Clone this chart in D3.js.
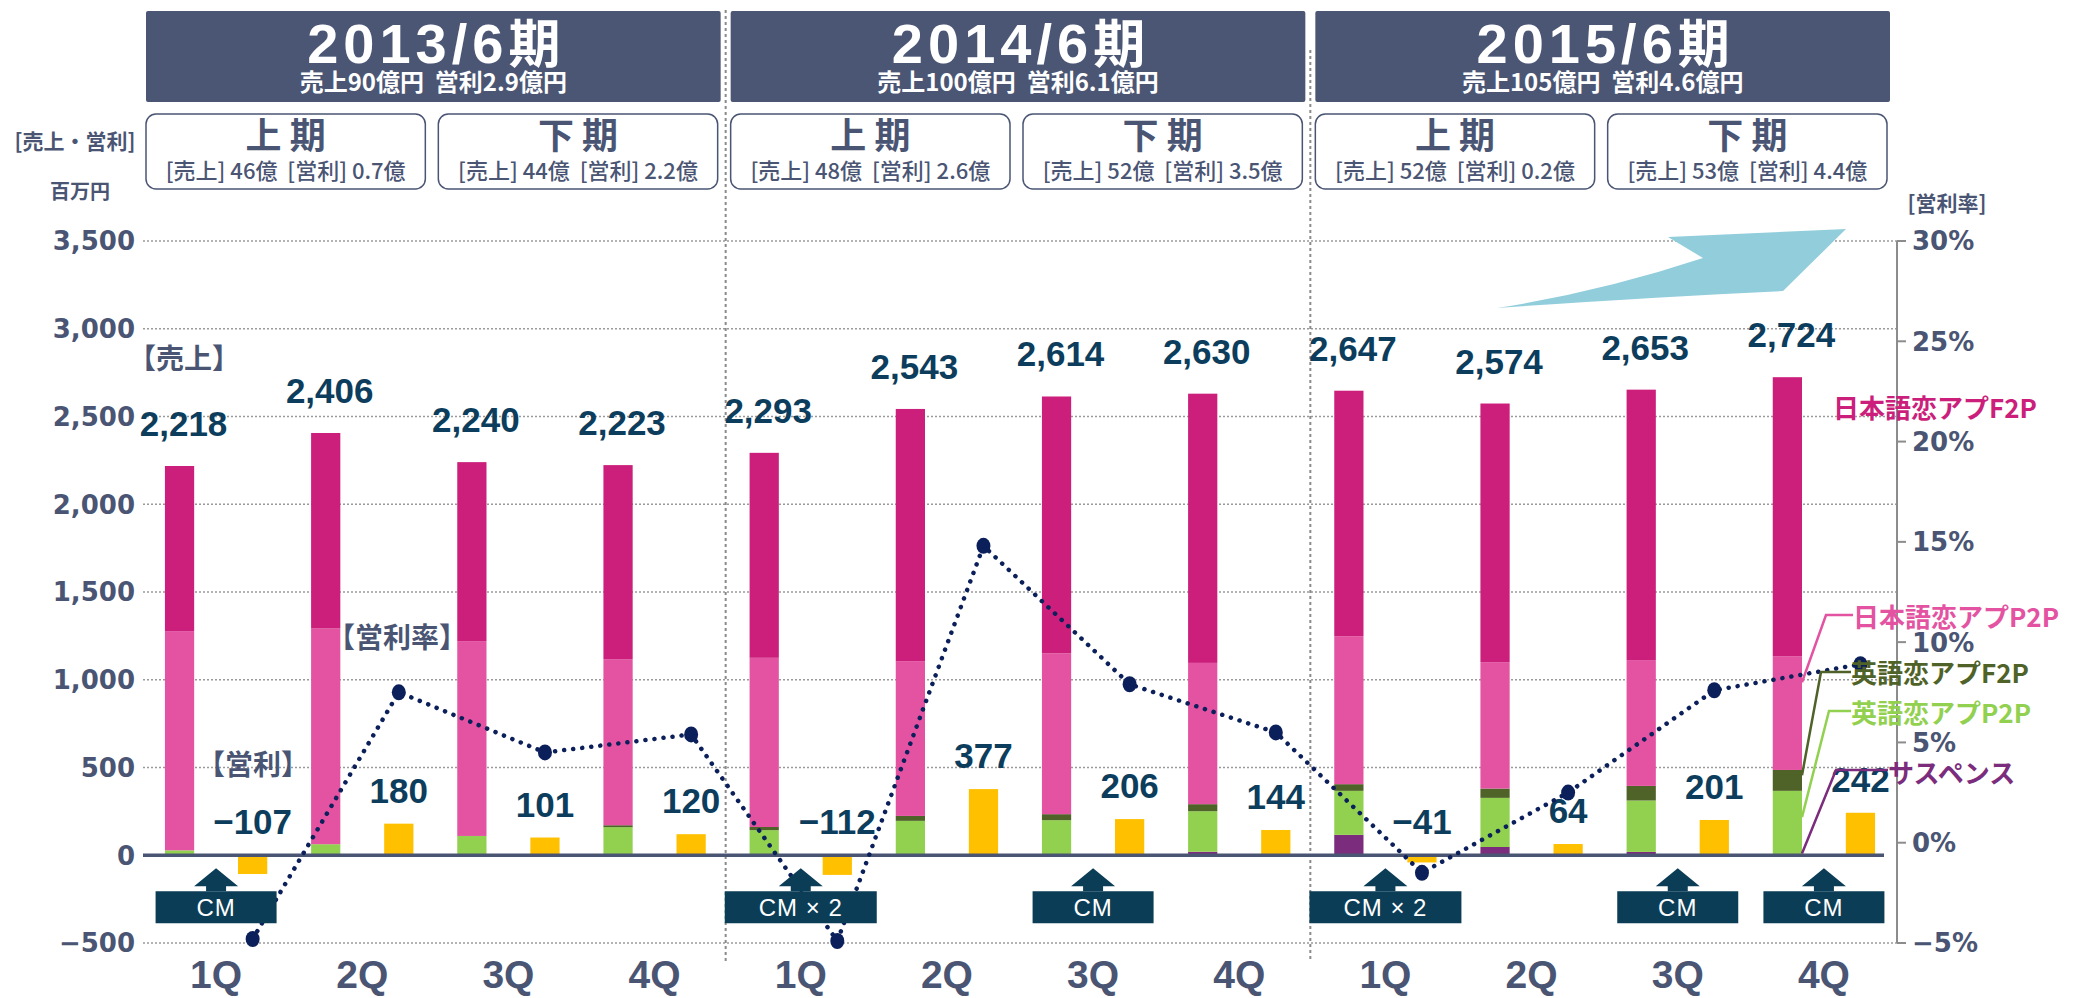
<!DOCTYPE html>
<html>
<head>
<meta charset="utf-8">
<script src="https://cdn.jsdelivr.net/npm/d3@7"></script>
<style>
  body { margin: 0; background: #fff; }
  text { font-family: "Noto Sans CJK JP", "Liberation Sans", sans-serif; white-space: pre; }
</style>
</head>
<body>
<div id="chart"></div>
<script>
'use strict';

const width = 2082;
const height = 998;

// quarters (3 fiscal years x 4)
const quarters = ["1Q", "2Q", "3Q", "4Q", "1Q", "2Q", "3Q", "4Q", "1Q", "2Q", "3Q", "4Q"];

// sales by title group, 百万円
const suspense = [0, 0, 0, 0, 0, 0, 0, 20, 116, 47, 19, 0];
const enP2P = [28, 63, 110, 160, 143, 196, 200, 231, 251, 280, 293, 367];
const enF2P = [0, 0, 0, 11, 18, 28, 34, 40, 38, 53, 83, 119];
const jpP2P = [1249, 1229, 1110, 946, 964, 882, 916, 805, 843, 720, 717, 648];
const jpF2P = [941, 1114, 1020, 1106, 1168, 1437, 1464, 1534, 1399, 1474, 1541, 1590];

const salesTotal = [2218, 2406, 2240, 2223, 2293, 2543, 2614, 2630, 2647, 2574, 2653, 2724];
const profit = [-107, 180, 101, 120, -112, 377, 206, 144, -41, 64, 201, 242];
// 営利率 (%)
const margin = [-4.8, 7.5, 4.5, 5.4, -4.9, 14.8, 7.9, 5.5, -1.5, 2.5, 7.6, 8.9];

const leftTicks = [-500, 0, 500, 1000, 1500, 2000, 2500, 3000, 3500];
const leftTickLabels = ["−500", "0", "500", "1,000", "1,500", "2,000", "2,500", "3,000", "3,500"];
const rightTicks = [-5, 0, 5, 10, 15, 20, 25, 30];
const rightTickLabels = ["−5%", "0%", "5%", "10%", "15%", "20%", "25%", "30%"];

const years = ["2013/6", "2014/6", "2015/6"];
const yearSummary = ["売上90億円  営利2.9億円", "売上100億円  営利6.1億円", "売上105億円  営利4.6億円"];
const halves = ["上 期", "下 期", "上 期", "下 期", "上 期", "下 期"];
const halfSummary = [
    "[売上] 46億  [営利] 0.7億", "[売上] 44億  [営利] 2.2億",
    "[売上] 48億  [営利] 2.6億", "[売上] 52億  [営利] 3.5億",
    "[売上] 52億  [営利] 0.2億", "[売上] 53億  [営利] 4.4億"
];

const cmQuarter = [0, 4, 6, 8, 10, 11];
const cmLabel = ["CM", "CM × 2", "CM", "CM × 2", "CM", "CM"];

const seriesKeys = ["suspense", "enP2P", "enF2P", "jpP2P", "jpF2P"];
const seriesNames = ["サスペンス", "英語恋アプP2P", "英語恋アプF2P", "日本語恋アプP2P", "日本語恋アプF2P"];
const seriesColors = ["#7b2c7c", "#92d050", "#4f6228", "#e353a1", "#cc1f7b"];

const slate = "#4a5574";
const navyText = "#0c3d5c";
const numFont = '"Liberation Sans", Arial, sans-serif';
const axisFont = '"DejaVu Sans", Verdana, sans-serif';

let table = quarters.map((q, i) => ({
    i: i,
    suspense: suspense[i],
    enP2P: enP2P[i],
    enF2P: enF2P[i],
    jpP2P: jpP2P[i],
    jpF2P: jpF2P[i]
}));

let svg = d3.select("#chart").append("svg")
    .attr("width", width)
    .attr("height", height)
    .attr("viewBox", `0 0 ${width} ${height}`);

const x = d3.scaleBand().domain(d3.range(12)).range([143, 1897]).padding(0);
const xs = d3.scaleBand().domain(["sales", "profit"]).range([0, x.bandwidth()])
    .paddingInner(0.6).paddingOuter(0.3);
const yL = d3.scaleLinear().domain([-500, 3500]).range([943, 241]);
const yR = d3.scaleLinear().domain([-5, 30]).range([943, 241]);
const bw = xs.bandwidth();
const y0 = yL(0);

// ---- header boxes
const yearG = svg.append("g");
years.forEach((yr, k) => {
    const x0 = x(k * 4) + 3;
    const w = x.bandwidth() * 4 - 10;
    yearG.append("rect")
        .attr("x", x0).attr("y", 11).attr("width", w).attr("height", 91)
        .attr("rx", 2).attr("fill", "#4b5675");
    const title = yearG.append("text")
        .attr("x", x0 + w / 2 + 3).attr("y", 63)
        .attr("text-anchor", "middle")
        .attr("fill", "#fff")
        .style("font-weight", "bold")
        .style("letter-spacing", "5px");
    title.append("tspan").style("font-family", numFont).style("font-size", "56px").text(yr);
    title.append("tspan").style("font-size", "52px").text("期");
    yearG.append("text")
        .attr("x", x0 + w / 2).attr("y", 91)
        .attr("text-anchor", "middle")
        .attr("fill", "#fff")
        .style("font-size", "24px").style("font-weight", "bold")
        .text(yearSummary[k]);
});

halves.forEach((h, k) => {
    const x0 = x(k * 2) + 3;
    const w = x.bandwidth() * 2 - 13;
    yearG.append("rect")
        .attr("x", x0).attr("y", 114).attr("width", w).attr("height", 75)
        .attr("rx", 10).attr("fill", "#fff")
        .attr("stroke", slate).attr("stroke-width", 1.5);
    yearG.append("text")
        .attr("x", x0 + w / 2).attr("y", 149)
        .attr("text-anchor", "middle").attr("fill", slate)
        .style("font-size", "36px").style("font-weight", "bold")
        .text(h);
    yearG.append("text")
        .attr("x", x0 + w / 2).attr("y", 179)
        .attr("text-anchor", "middle").attr("fill", slate)
        .style("font-size", "22px").style("font-weight", "500")
        .text(halfSummary[k]);
});

// unit labels
svg.append("text").attr("x", 75).attr("y", 149).attr("text-anchor", "middle")
    .attr("fill", slate).style("font-size", "21px").style("font-weight", "bold")
    .text("[売上・営利]");
svg.append("text").attr("x", 80).attr("y", 199).attr("text-anchor", "middle")
    .attr("fill", slate).style("font-size", "20px").style("font-weight", "bold")
    .text("百万円");
svg.append("text").attr("x", 1947).attr("y", 211).attr("text-anchor", "middle")
    .attr("fill", slate).style("font-size", "21px").style("font-weight", "bold")
    .text("[営利率]");

// ---- grid
svg.append("g")
    .selectAll("line")
    .data(leftTicks.filter(d => d !== 0))
    .join("line")
    .attr("x1", x.range()[0]).attr("x2", x.range()[1])
    .attr("y1", d => yL(d)).attr("y2", d => yL(d))
    .attr("stroke", "#9a9a9a").attr("stroke-width", 1.6)
    .attr("stroke-dasharray", "2,2");

// year separators
svg.append("g")
    .selectAll("line")
    .data([4, 8])
    .join("line")
    .attr("x1", d => x(d) - 2).attr("x2", d => x(d) - 2)
    .attr("y1", (d, i) => i === 0 ? 10 : 50).attr("y2", 962)
    .attr("stroke", "#8a8a8a").attr("stroke-width", 2)
    .attr("stroke-dasharray", "3,3");

// left tick labels
svg.append("g")
    .selectAll("text")
    .data(leftTicks)
    .join("text")
    .attr("x", 135).attr("y", d => yL(d))
    .attr("dy", "0.36em")
    .attr("text-anchor", "end")
    .attr("fill", slate)
    .style("font-family", axisFont).style("font-size", "26px").style("font-weight", "bold")
    .text((d, i) => leftTickLabels[i]);

// right axis
const rAxis = svg.append("g");
rAxis.append("line")
    .attr("x1", 1897).attr("x2", 1897)
    .attr("y1", yR(30)).attr("y2", yR(-5))
    .attr("stroke", "#8c8c8c").attr("stroke-width", 2);
rAxis.selectAll(".tick")
    .data(rightTicks)
    .join("line")
    .attr("x1", 1897).attr("x2", 1906)
    .attr("y1", d => yR(d)).attr("y2", d => yR(d))
    .attr("stroke", "#8c8c8c").attr("stroke-width", 2);
rAxis.selectAll("text")
    .data(rightTicks)
    .join("text")
    .attr("x", 1912).attr("y", d => yR(d))
    .attr("dy", "0.36em")
    .attr("fill", slate)
    .style("font-family", axisFont).style("font-size", "26px").style("font-weight", "bold")
    .text((d, i) => rightTickLabels[i]);

// ---- stacked sales bars
const stacked = d3.stack().keys(seriesKeys)(table);
svg.append("g")
    .selectAll("g")
    .data(stacked)
    .join("g")
    .attr("fill", (d, i) => seriesColors[i])
    .selectAll("rect")
    .data(d => d)
    .join("rect")
    .attr("x", d => x(d.data.i) + xs("sales"))
    .attr("y", d => yL(d[1]))
    .attr("width", bw)
    .attr("height", d => Math.max(0, yL(d[0]) - yL(d[1])));

// operating profit bars
svg.append("g")
    .selectAll("rect")
    .data(profit)
    .join("rect")
    .attr("x", (d, i) => x(i) + xs("profit"))
    .attr("y", d => yL(Math.max(0, d)))
    .attr("width", bw)
    .attr("height", d => Math.abs(yL(d) - y0))
    .attr("fill", "#ffc000");

// zero line
svg.append("line")
    .attr("x1", x.range()[0]).attr("x2", 1884)
    .attr("y1", y0).attr("y2", y0)
    .attr("stroke", slate).attr("stroke-width", 3.5);

// value labels
svg.append("g")
    .selectAll("text")
    .data(salesTotal)
    .join("text")
    .attr("x", (d, i) => x(i) + xs("sales") + bw / 2 + 4)
    .attr("y", d => yL(d) - 30)
    .attr("text-anchor", "middle")
    .attr("fill", navyText)
    .style("font-family", numFont).style("font-size", "35px").style("font-weight", "bold")
    .text(d => d3.format(",")(d));

svg.append("g")
    .selectAll("text")
    .data(profit)
    .join("text")
    .attr("x", (d, i) => x(i) + xs("profit") + bw / 2)
    .attr("y", d => Math.min(yL(d), y0) - 21)
    .attr("text-anchor", "middle")
    .attr("fill", navyText)
    .style("font-family", numFont).style("font-size", "35px").style("font-weight", "bold")
    .text(d => d < 0 ? "−" + Math.abs(d) : d);

// annotations
const notes = [
    { t: "【売上】", x: 184, y: 369 },
    { t: "【営利率】", x: 397, y: 648 },
    { t: "【営利】", x: 253, y: 775 }
];
svg.append("g")
    .selectAll("text")
    .data(notes)
    .join("text")
    .attr("x", d => d.x).attr("y", d => d.y)
    .attr("text-anchor", "middle")
    .attr("fill", slate)
    .style("font-size", "28px").style("font-weight", "bold")
    .text(d => d.t);

// ---- margin line
const lineGen = d3.line()
    .x((d, i) => x(i) + xs("profit") + bw / 2)
    .y(d => yR(d));
svg.append("path")
    .datum(margin)
    .attr("d", lineGen)
    .attr("fill", "none")
    .attr("stroke", "#0b1f5a")
    .attr("stroke-width", 4.5)
    .attr("stroke-linecap", "round")
    .attr("stroke-dasharray", "0.1,9");
svg.append("g")
    .selectAll("ellipse")
    .data(margin)
    .join("ellipse")
    .attr("cx", (d, i) => x(i) + xs("profit") + bw / 2)
    .attr("cy", d => yR(d))
    .attr("rx", 7).attr("ry", 8)
    .attr("fill", "#0b1f5a");

// ---- CM boxes
const cmG = svg.append("g");
cmQuarter.forEach((q, k) => {
    const cx = x(q) + x.bandwidth() / 2;
    const w = cmLabel[k].length > 2 ? 152 : 121;
    const top = y0 + 36;
    cmG.append("path")
        .attr("d", `M${cx - 22},${top - 5} L${cx},${top - 23} L${cx + 22},${top - 5} L${cx + 10},${top - 5} L${cx + 10},${top} L${cx - 10},${top} L${cx - 10},${top - 5} Z`)
        .attr("fill", "#0b3d57");
    cmG.append("rect")
        .attr("x", cx - w / 2).attr("y", top)
        .attr("width", w).attr("height", 32)
        .attr("fill", "#0b3d57");
    cmG.append("text")
        .attr("x", cx).attr("y", top + 25)
        .attr("text-anchor", "middle")
        .attr("fill", "#fff")
        .style("font-family", numFont).style("font-size", "24px")
        .style("letter-spacing", "1px")
        .text(cmLabel[k]);
});

// x labels
svg.append("g")
    .selectAll("text")
    .data(quarters)
    .join("text")
    .attr("x", (d, i) => x(i) + x.bandwidth() / 2)
    .attr("y", 988)
    .attr("text-anchor", "middle")
    .attr("fill", slate)
    .style("font-family", numFont).style("font-size", "39px").style("font-weight", "bold")
    .text(d => d);

// ---- series labels at the right
const lastX = x(11) + xs("sales") + bw;
const legendLayout = [
    { k: 4, at: null, tx: 1833, ty: 418 },
    { k: 3, at: 986, ex: 1826, ey: 615, tx: 1853, ty: 627 },
    { k: 2, at: 456, ex: 1821, ey: 672, tx: 1851, ty: 683 },
    { k: 1, at: 217, ex: 1829, ey: 711, tx: 1851, ty: 723 },
    { k: 0, at: 10, ex: 1836, ey: 770, tx: 1888, ty: 783 }
];
const legG = svg.append("g");
legendLayout.forEach(l => {
    if (l.at !== null) {
        legG.append("polyline")
            .attr("points", `${lastX},${yL(l.at)} ${l.ex},${l.ey} ${l.tx},${l.ey}`)
            .attr("fill", "none")
            .attr("stroke", seriesColors[l.k])
            .attr("stroke-width", 2.5);
    }
    legG.append("text")
        .attr("x", l.tx).attr("y", l.ty)
        .attr("fill", seriesColors[l.k])
        .style("font-size", "26px").style("font-weight", "bold")
        .text(seriesNames[l.k]);
});

// growth arrow
svg.append("path")
    .attr("d", "M1497,308 Q1650,297 1783,291 L1846,229 L1668,237 L1703,258 Q1600,292 1497,308 Z")
    .attr("fill", "#92cddc");
</script>
</body>
</html>
